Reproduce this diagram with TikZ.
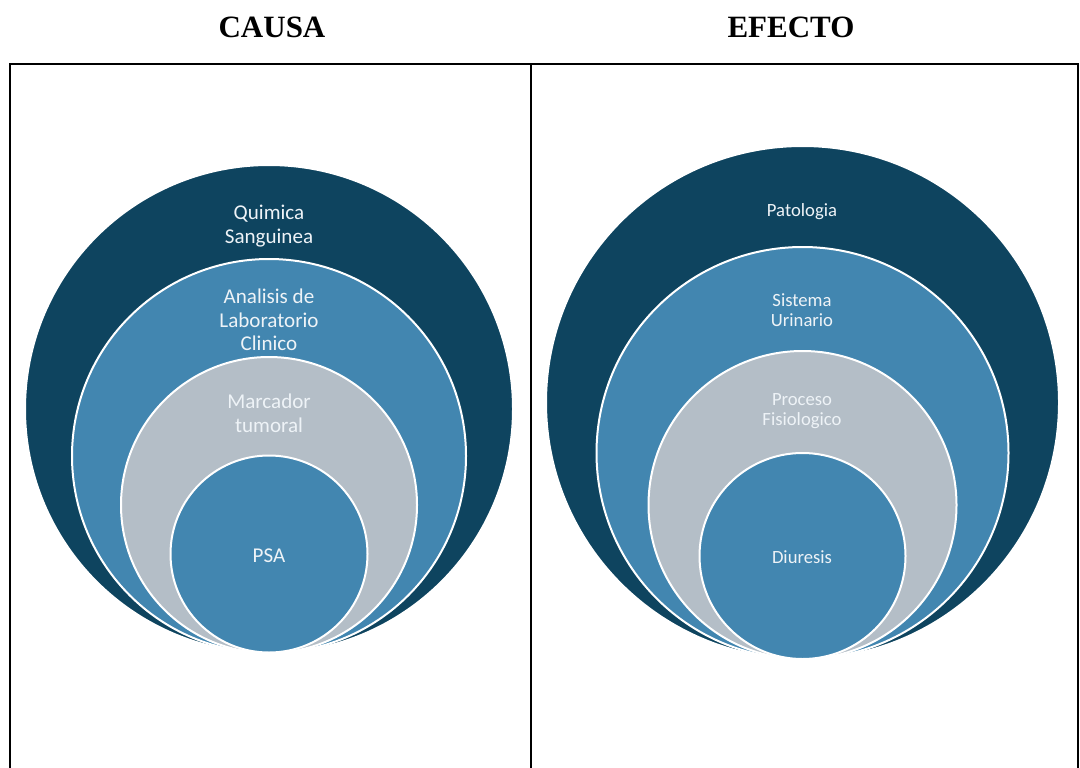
\documentclass[tikz,border=0pt]{standalone}
\usepackage{fontspec}
\setmainfont{Carlito}
\newfontfamily\titlefont{Liberation Serif}
\usepackage{xcolor}

\definecolor{darkteal}{HTML}{0E445F}
\definecolor{midblue}{HTML}{4286B0}
\definecolor{softgrey}{HTML}{B4BEC7}
\definecolor{ringtext}{HTML}{EEF3F7}

\begin{document}
\begin{tikzpicture}[x=0.75pt, y=-0.75pt,
    ring/.style={circle, draw=white, line width=1.5pt, inner sep=0pt, minimum size=#1*0.75pt},
    title/.style={font=\titlefont\bfseries\fontsize{23.25}{28}\selectfont, anchor=base},
    causatext/.style={text=ringtext, align=center, anchor=base, inner sep=0pt, font=\fontsize{15.8}{17.5}\selectfont},
    efectotext/.style={text=ringtext, align=center, anchor=base, inner sep=0pt, font=\fontsize{14}{15}\selectfont}]

\useasboundingbox (0,0) rectangle (1080,767);
\clip (0,0) rectangle (1080,767);

% two panels, open at the bottom
\draw[line width=1.5pt] (10,64) rectangle (1078,790);
\draw[line width=1.5pt] (531,64) -- (531,790);

\node[title] (causa) at (272,38) {CAUSA};
\node[title] (efecto) at (791,38) {EFECTO};

% cause side (text placed by its last baseline)
\node[ring=488, fill=darkteal] (quimica) at (269,409) {};
\node[ring=394, fill=midblue] (analisis) at (269,456) {};
\node[ring=296, fill=softgrey] (marcador) at (269,505) {};
\node[ring=197, fill=midblue] (psa) at (269,554) {};

\node[causatext] (quimicatxt) at (269,243) {Quimica\\Sanguinea};
\node[causatext] (analisistxt) at (269,350.5) {Analisis de\\Laboratorio\\Clinico};
\node[causatext] (marcadortxt) at (269,432) {Marcador\\tumoral};
\node[causatext] (psatxt) at (269,562) {PSA};

% effect side
\node[ring=513, fill=darkteal] (patologia) at (802.5,402.5) {};
\node[ring=412, fill=midblue] (sistema) at (802.5,453) {};
\node[ring=308, fill=softgrey] (proceso) at (802.5,505) {};
\node[ring=206, fill=midblue] (diuresis) at (802.5,556) {};

\node[efectotext] (patologiatxt) at (802,216) {Patologia};
\node[efectotext] (sistematxt) at (802,326) {Sistema\\Urinario};
\node[efectotext] (procesotxt) at (802,425) {Proceso\\Fisiologico};
\node[efectotext] (diuresistxt) at (802,563) {Diuresis};

\end{tikzpicture}
\end{document}
